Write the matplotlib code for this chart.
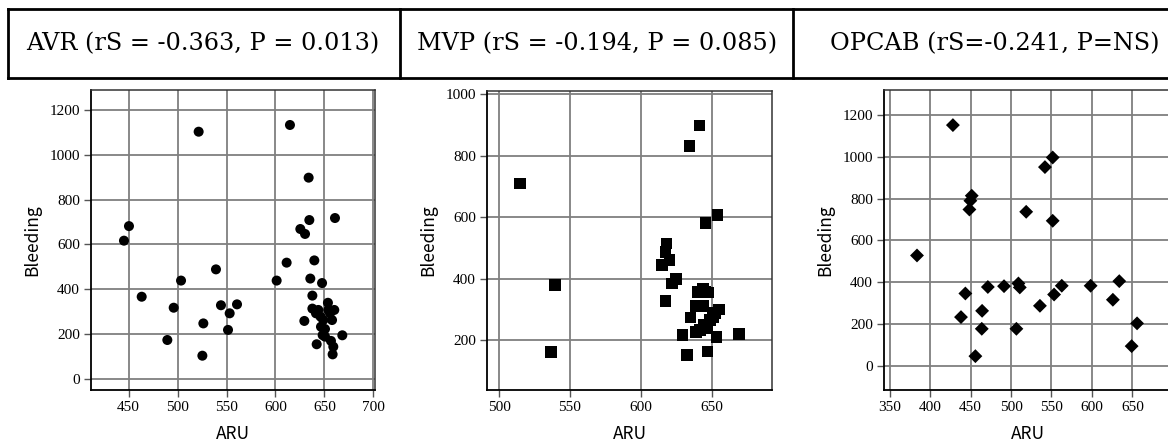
import matplotlib
matplotlib.use("Agg")
import matplotlib.pyplot as plt
from matplotlib.lines import Line2D

# AVR group
avr_aru = [445.2, 450.3, 463.3, 489.5, 496.0, 503.5, 521.5, 525.3, 526.3, 539.2,
           544.3, 553.2, 551.5, 560.7, 601.2, 611.4, 614.8, 629.5, 625.4, 630.2,
           633.9, 634.6, 639.7, 635.6, 637.7, 637.7, 641.4, 643.8, 647.6, 642.1,
           646.5, 648.9, 648.2, 650.6, 653.6, 654.0, 655.7, 660.1, 657.8, 656.7,
           659.1, 658.4, 668.3, 660.8, 650.6, 646.1]
avr_bleed = [617, 682, 367, 174, 318, 439, 1103, 104, 248, 489,
             329, 293, 219, 333, 439, 519, 1133, 259, 669, 647,
             898, 709, 529, 448, 372, 314, 293, 308, 428, 155,
             233, 263, 196, 223, 340, 308, 293, 308, 263, 170,
             144, 110, 195, 718, 189, 278]

# MVP group
mvp_aru = [514.6, 539.6, 536.7, 641.3, 634.2, 654.0, 645.5, 618.0, 617.3, 620.1,
           615.1, 624.8, 622.0, 617.3, 640.1, 645.3, 643.6, 647.6, 638.9, 644.1,
           634.9, 644.1, 650.7, 655.2, 652.3, 629.3, 638.9, 641.7, 646.4, 653.3,
           632.6, 646.9, 669.3, 648.8]
mvp_bleed = [710, 380, 162, 899, 831, 607, 582, 515, 488, 461,
             445, 401, 385, 328, 358, 358, 369, 356, 311, 313,
             275, 250, 275, 301, 290, 217, 228, 234, 239, 212,
             152, 164, 221, 266]

# OPCAB group
opcab_aru = [383.7, 428.1, 443.5, 438.1, 455.9, 448.5, 449.7, 451.4, 464.2, 463.8,
             471.3, 491.3, 506.6, 509.1, 510.8, 518.7, 535.7, 541.9, 551.5, 551.5,
             553.2, 562.7, 598.4, 625.9, 633.8, 655.8, 649.1]
opcab_bleed = [528, 1152, 346, 233, 46, 748, 790, 814, 263, 177,
               377, 381, 177, 394, 375, 737, 287, 951, 997, 694,
               341, 383, 383, 316, 405, 203, 94]

headers = ["AVR (rS = -0.363, P = 0.013)",
           "MVP (rS = -0.194, P = 0.085)",
           "OPCAB (rS=-0.241, P=NS)"]

W, H = 1168, 444
fig = plt.figure(figsize=(W / 100, H / 100), dpi=100)

def px_axes(left, right, top, bottom):
    return fig.add_axes([left / W, 1 - bottom / H, (right - left) / W, (bottom - top) / H])

panels = [
    dict(box=(91, 375, 90, 390), x=avr_aru, y=avr_bleed, marker="o", s=52,
         xlim=(411.5, 701.7), ylim=(-49, 1289),
         xticks=range(450, 701, 50), yticks=range(0, 1201, 200)),
    dict(box=(487, 772, 91, 390), x=mvp_aru, y=mvp_bleed, marker="s", s=72,
         xlim=(491.5, 692.4), ylim=(39, 1011),
         xticks=range(500, 651, 50), yticks=range(200, 1001, 200)),
    dict(box=(884, 1172, 90, 390), x=opcab_aru, y=opcab_bleed, marker="D", s=50,
         xlim=(342.9, 699), ylim=(-116, 1320),
         xticks=range(350, 651, 50), yticks=range(0, 1201, 200)),
]

tick_font = "Liberation Serif"
label_font = ["Noto Sans CJK JP", "DejaVu Sans"]

for p in panels:
    ax = px_axes(*p["box"])
    ax.scatter(p["x"], p["y"], marker=p["marker"], s=p["s"], c="black",
               edgecolors="none", zorder=3)
    ax.set_xlim(*p["xlim"])
    ax.set_ylim(*p["ylim"])
    ax.set_xticks(list(p["xticks"]))
    ax.set_yticks(list(p["yticks"]))
    ax.grid(True, color="#7f7f7f", linewidth=1.3)
    ax.set_axisbelow(True)
    for side in ["left", "bottom"]:
        ax.spines[side].set_color("black")
        ax.spines[side].set_linewidth(1.3)
    for side in ["top", "right"]:
        ax.spines[side].set_color("#333333")
        ax.spines[side].set_linewidth(1.1)
    ax.tick_params(direction="out", length=5, width=1.0, color="#555555",
                   labelsize=11, pad=3)
    for lab in ax.get_xticklabels() + ax.get_yticklabels():
        lab.set_fontfamily(tick_font)
    ax.set_xlabel("ARU", family=label_font, fontsize=12.5, labelpad=8)
    ax.set_ylabel("Bleeding", family=label_font, fontsize=12.5, labelpad=6)

# header table
top_y = 1 - 9 / H
bot_y = 1 - 78 / H
fig.add_artist(Line2D([8 / W, 1], [top_y, top_y], color="black", linewidth=2))
fig.add_artist(Line2D([8 / W, 1], [bot_y, bot_y], color="black", linewidth=2))
for xv in [8, 400, 793]:
    fig.add_artist(Line2D([xv / W, xv / W], [bot_y, top_y], color="black", linewidth=2))

text_centers = [203, 597, 995]
for cx, t in zip(text_centers, headers):
    fig.text(cx / W, 1 - 44 / H, t, ha="center", va="center",
             family="DejaVu Serif", fontsize=17.3)

fig.savefig("out.png", dpi=100)
